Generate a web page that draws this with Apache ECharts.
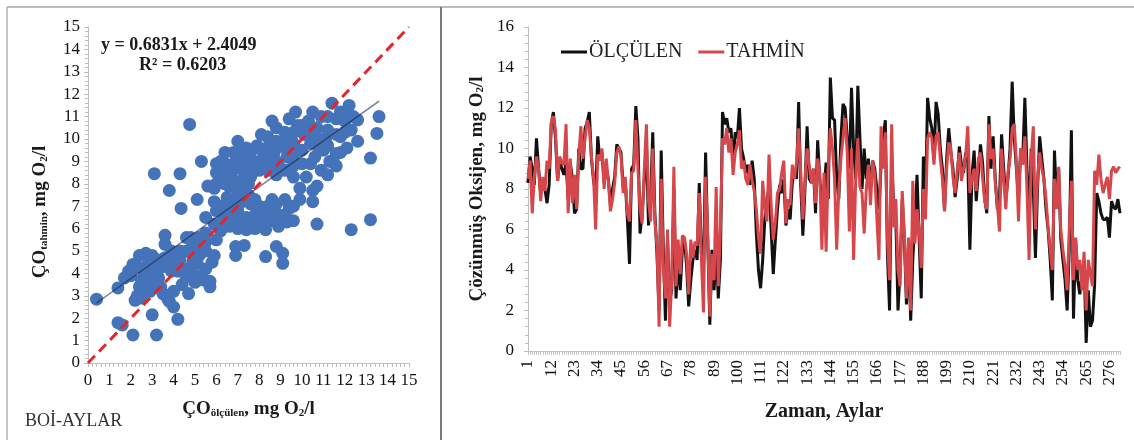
<!DOCTYPE html>
<html>
<head>
<meta charset="utf-8">
<script src="https://cdn.jsdelivr.net/npm/echarts@6/dist/echarts.min.js"></script>
<style>
  html, body { margin: 0; padding: 0; background: #fff; }
  #chart { width: 1134px; height: 440px; }
</style>
</head>
<body>
<div id="chart"></div>
<script>
// scatter: measured (x) vs predicted (y), BOİ-AYLAR
const scatterX = [0.4,1.4,1.4,1.6,2.1,3.2,3.0,4.2,3.1,4.3,3.8,4.35,4.75,5.1,5.3,
  1.7,1.9,2.1,2.4,2.7,3.0,3.3,2.3,2.4,2.5,2.6,2.8,3.1,3.3,2.2,2.5,2.9,3.5,3.6,3.6,3.9,3.8,4.1,4.2,3.5,3.8,4.0,3.7,4.4,4.5,4.3,
  4.6,4.8,5.2,5.5,4.6,5.0,5.5,4.9,5.1,5.8,4.6,5.4,5.7,5.7,4.7,5.2,5.9,
  6.9,7.3,6.9,8.3,8.8,9.1,9.1,10.7,12.3,13.2,
  13.2,13.5,13.6,12.6,12.6,11.8,11.6,11.1,10.5,10.5,9.9,9.6,11.8,11.45,
  5.5,5.9,6.0,6.3,6.6,6.6,7.0,7.4,7.8,8.3,8.9,9.3,7.0,7.4,7.8,8.2,8.6,9.0,9.4,7.2,7.6,8.0,8.4,8.8,9.2,6.8,7.0,7.5,6.2,6.5,5.9,5.6,5.9,
  6.0,6.3,6.2,6.5,6.8,6.7,6.9,7.2,7.3,7.5,7.6,7.9,7.8,7.6,8.2,8.4,8.5,8.8,8.7,8.9,9.0,9.2,9.3,9.4,9.5,9.7,9.8,9.9,10.0,10.1,
  10.3,10.5,10.4,10.6,10.7,10.9,11.0,11.2,11.4,11.6,11.3,11.8,12.0,12.2,12.4,12.0,10.9,10.2,9.6,10.7,6.4,7.0,7.4,8.1,8.6,9.4,
  6.6,7.1,9.9,11.2,11.6,12.1,12.3,
  6.0,6.0,6.4,6.4,6.8,6.8,7.2,7.2,7.2,7.6,7.6,8.0,8.0,8.0,8.4,8.4,8.4,8.8,8.8,8.8,9.2,9.2,9.6,9.6,9.6,9.6,
  10.0,10.0,10.4,10.4,10.8,10.8,11.2,11.2,11.6,12.0,
  6.3,6.8,7.2,7.6,8.0,8.4,8.8,9.2,6.4,6.9,7.8,8.6,9.6,8.1,
  2.0,2.3,2.7,3.0,3.3,3.6,3.9,2.9,4.0,3.4,4.3,4.9,5.3,5.2,4.8,5.5,5.0,5.5,6.0,6.2];
const scatterY = [2.85,3.35,1.8,1.7,1.25,1.25,2.15,1.95,8.45,8.45,7.7,6.9,10.65,7.3,9.0,
  3.8,4.1,4.4,4.8,4.9,4.8,4.6,3.0,3.4,3.7,4.1,4.4,4.1,3.8,2.8,2.9,3.2,4.3,5.7,5.3,5.0,4.5,4.6,4.1,3.1,2.75,2.5,2.9,3.5,4.2,5.0,
  5.6,5.6,5.6,5.8,5.0,5.0,5.0,4.5,4.45,4.5,3.85,3.7,3.4,3.65,3.1,3.9,4.8,
  5.2,5.25,4.8,4.75,5.2,4.9,4.45,6.2,5.95,6.4,
  9.15,10.25,11.0,9.9,10.85,10.1,9.35,10.0,7.7,7.2,7.3,6.35,9.4,9.05,
  6.5,6.2,6.8,6.1,6.1,6.6,6.0,5.95,6.0,5.95,6.1,6.3,6.8,6.5,6.6,6.5,6.5,6.6,6.9,7.2,7.1,7.0,7.0,7.1,7.3,7.3,7.6,7.5,7.0,7.4,7.2,7.9,7.8,
  8.5,8.4,9.0,8.8,9.4,8.3,8.7,9.2,8.5,8.0,9.0,9.7,8.6,8.3,9.2,8.6,9.9,10.5,9.4,8.8,9.8,10.3,9.2,8.6,10.0,11.2,10.6,9.5,8.9,10.2,
  10.8,11.2,9.8,9.2,10.5,11.0,9.5,10.4,11.6,10.9,9.0,11.2,10.8,11.5,11.0,10.3,8.6,8.3,8.3,7.9,9.4,9.9,9.6,10.2,10.8,10.9,
  7.9,8.1,7.8,8.4,8.8,9.6,10.4,
  8.0,8.9,8.0,8.9,8.1,8.9,7.9,8.7,9.6,8.7,9.4,8.6,9.0,9.6,9.1,9.6,10.1,8.4,9.0,9.9,8.6,9.6,8.8,9.3,9.8,10.3,
  9.5,10.6,8.9,10.3,9.5,10.0,9.7,11.0,10.2,11.2,
  6.6,6.3,6.3,6.3,6.3,6.3,6.6,6.6,7.0,7.0,7.3,7.3,7.0,6.7,
  3.9,4.3,3.7,3.6,4.2,4.7,4.1,4.6,3.2,3.4,4.6,5.3,5.2,4.8,4.1,4.2,3.6,5.4,5.5,5.9];
const diagLine = [0, 15];          // 1:1 line
const trendSlope = 0.6831;
const trendIntercept = 2.4049;
const trendRange = [0.4, 13.6];

// time series, 281 months
const olculen = [
  8.3,9.6,9.0,8.2,10.5,9.0,7.8,8.4,8.0,7.3,
  8.2,11.2,11.8,10.5,8.4,9.5,9.0,8.7,9.3,7.5,
  9.3,8.5,6.8,7.0,10.0,9.0,9.0,11.0,11.3,11.8,
  9.5,8.4,7.8,10.6,9.4,9.8,8.3,9.0,8.5,7.2,
  8.0,8.6,10.2,10.0,9.8,8.1,8.4,6.5,4.3,9.0,
  9.2,12.1,10.5,5.8,6.8,8.5,10.3,6.2,7.5,10.8,
  6.8,4.8,2.0,9.9,5.0,1.5,5.5,2.5,3.0,8.0,
  2.6,4.5,3.0,5.0,5.5,4.2,2.2,3.5,4.5,5.0,
  4.5,8.3,4.8,4.0,9.8,5.5,1.3,5.0,3.0,5.0,
  2.6,4.5,11.8,11.2,11.5,10.8,11.0,9.2,10.8,10.5,
  12.0,10.0,9.5,8.8,9.2,8.2,9.4,8.5,5.8,4.0,
  3.1,4.5,6.5,7.5,8.0,6.0,3.8,5.5,7.0,8.2,
  7.8,8.5,6.2,7.0,6.5,8.3,9.0,8.5,12.3,8.2,
  5.7,8.0,11.1,8.5,8.3,9.0,6.8,10.4,8.5,7.2,
  8.0,9.3,7.5,13.5,11.5,11.4,8.5,7.5,10.5,12.2,
  12.0,10.5,9.0,13.0,10.0,8.5,13.1,10.5,8.0,10.0,
  8.5,9.5,8.0,9.4,9.0,8.0,7.0,9.2,10.5,11.4,
  4.8,2.0,9.5,7.0,6.5,2.0,4.0,7.5,5.5,2.3,
  5.0,1.5,4.5,6.5,8.7,5.5,2.6,9.6,7.5,12.5,
  11.5,11.0,9.5,12.3,11.7,10.0,9.0,6.9,9.5,11.0,
  9.8,9.0,7.6,8.5,10.1,9.2,8.8,9.8,9.5,5.0,
  8.7,9.9,7.4,8.8,10.2,9.3,7.5,6.8,11.6,9.0,
  10.6,8.5,7.0,7.5,10.7,9.0,7.5,8.5,10.0,13.3,
  10.5,9.0,7.5,10.0,9.5,12.5,9.0,6.5,10.0,8.0,
  4.6,8.0,10.6,9.5,8.5,7.0,6.0,4.5,2.5,9.9,
  7.5,9.0,5.5,4.5,3.5,2.0,5.0,10.9,1.6,5.5,
  3.5,2.8,3.8,4.5,0.4,3.0,1.2,1.5,3.3,7.8,
  7.4,6.8,6.5,6.5,6.6,5.6,7.4,7.1,7.0,7.5,6.8];
const tahmin = [
  8.5,9.4,6.8,8.6,9.6,9.0,7.4,8.6,7.9,9.4,
  9.0,11.3,11.6,10.9,8.4,9.6,9.3,9.2,11.2,6.8,
  9.5,7.3,8.7,7.0,9.6,11.1,9.5,10.5,11.4,11.0,
  9.6,8.6,6.0,9.7,9.4,10.0,8.0,9.5,8.4,6.9,
  7.5,8.3,9.8,10.1,9.6,7.8,8.6,6.8,6.4,8.8,
  8.9,11.4,9.0,7.0,6.3,9.0,11.2,7.4,6.4,10.0,
  6.4,5.2,1.2,8.5,4.2,2.6,6.0,1.2,3.5,9.1,
  3.2,5.5,3.8,5.7,5.6,4.8,2.8,5.5,4.6,5.4,
  5.2,7.8,4.6,1.9,8.6,5.8,1.7,4.8,3.5,8.1,
  3.2,6.0,10.5,10.2,11.0,9.8,10.5,8.7,9.8,10.2,
  10.9,9.0,9.4,8.5,8.2,9.2,8.4,7.9,7.0,5.6,
  4.8,8.4,7.1,6.4,9.7,7.2,5.5,6.4,7.8,8.0,
  8.8,9.4,6.3,7.5,7.2,9.2,8.5,9.3,11.0,8.8,
  6.5,8.5,10.0,9.2,8.3,9.0,7.3,9.5,8.8,5.0,
  8.8,4.9,9.0,11.0,10.0,8.5,5.0,8.0,9.5,10.5,
  11.5,9.8,5.9,10.0,4.5,8.5,10.5,8.1,7.8,5.8,
  8.0,9.2,7.2,9.4,8.7,6.6,4.5,11.1,9.0,10.8,
  5.5,3.5,11.2,6.1,7.5,4.0,3.2,7.9,5.8,2.6,
  5.6,2.0,8.4,5.3,7.0,6.0,4.1,8.0,6.5,10.5,
  10.8,10.5,9.2,10.6,10.8,9.5,8.5,6.9,9.0,10.3,
  10.0,8.6,7.8,8.9,9.8,8.4,9.0,9.6,11.1,7.8,
  8.5,9.0,7.9,9.5,9.8,8.6,7.4,7.0,11.2,9.5,
  10.0,8.3,7.2,5.9,10.0,8.4,7.0,8.8,9.5,11.0,
  11.2,9.3,6.4,10.0,9.2,10.6,8.0,4.5,9.5,11.1,
  6.0,8.5,9.8,9.0,8.5,7.5,6.1,5.0,4.0,8.5,
  7.0,9.1,6.0,5.0,4.2,3.0,6.0,8.4,3.5,5.6,
  4.0,4.5,3.0,4.9,2.0,4.5,3.8,3.2,8.9,8.2,
  9.7,8.5,7.8,8.2,8.6,7.5,8.9,9.1,8.8,9.0,9.1];
const months = olculen.map((v, i) => String(i + 1));

const serif = 'Liberation Serif';
const axisGray = '#bfbfbf';

let scatterData = scatterX.map((x, i) => [x, scatterY[i]]);
let trendData = trendRange.map(x => [x, trendSlope * x + trendIntercept]);
let diagData = diagLine.map(v => [v, v]);

let richName = {
  b: { fontFamily: serif, fontSize: 19, fontWeight: 'bold', color: '#1a1a1a' },
  s: { fontFamily: serif, fontSize: 11, fontWeight: 'bold', color: '#1a1a1a', padding: [8, 0, 0, 0] }
};

let chart = echarts.init(document.getElementById('chart'));
let option = {
  animation: false,
  backgroundColor: '#fff',
  textStyle: { fontFamily: serif },
  grid: [
    { left: 88, top: 27, width: 321, height: 336 },
    { left: 528, top: 27, width: 592, height: 324 }
  ],
  legend: {
    data: ['ÖLÇÜLEN', 'TAHMİN'],
    left: 556, top: 37,
    icon: 'rect', itemWidth: 26, itemHeight: 3, itemGap: 16,
    textStyle: { fontFamily: serif, fontSize: 20, color: '#222', padding: [0, 0, 0, -3] }
  },
  xAxis: [
    {
      gridIndex: 0, type: 'value', min: 0, max: 15, interval: 1,
      axisLine: { lineStyle: { color: axisGray } },
      axisTick: { show: true, length: 4, lineStyle: { color: axisGray } },
      minorTick: { show: true, splitNumber: 5, length: 4, lineStyle: { color: axisGray } },
      splitLine: { show: false },
      axisLabel: { color: '#111', fontSize: 17, fontFamily: serif, margin: 9 },
      name: '{b|ÇO}{s|ölçülen}{b|, mg O}{s|2}{b|/l}',
      nameLocation: 'middle', nameGap: 37,
      nameTextStyle: { rich: richName }
    },
    {
      gridIndex: 1, type: 'category', data: months, boundaryGap: false,
      axisLine: { lineStyle: { color: axisGray } },
      axisTick: { show: true, interval: 0, length: 4, lineStyle: { color: '#c8c8c8' } },
      axisLabel: { interval: 10, rotate: 90, color: '#111', fontSize: 17, fontFamily: serif, margin: 9 },
      name: 'Zaman, Aylar',
      nameLocation: 'middle', nameGap: 51,
      nameTextStyle: { fontFamily: serif, fontSize: 20, fontWeight: 'bold', color: '#1a1a1a' }
    }
  ],
  yAxis: [
    {
      gridIndex: 0, type: 'value', min: 0, max: 15, interval: 1,
      axisLine: { show: true, lineStyle: { color: axisGray } },
      axisTick: { show: true, length: 4, lineStyle: { color: axisGray } },
      minorTick: { show: true, splitNumber: 5, length: 3, lineStyle: { color: axisGray } },
      splitLine: { show: false },
      axisLabel: { color: '#111', fontSize: 17, fontFamily: serif, margin: 8 },
      name: '{b|ÇO}{s|tahmin}{b|, mg O}{s|2}{b|/l}',
      nameLocation: 'middle', nameGap: 38,
      nameTextStyle: { rich: richName, padding: [0, 34, 0, 0] }
    },
    {
      gridIndex: 1, type: 'value', min: 0, max: 16, interval: 2,
      axisLine: { show: true, lineStyle: { color: axisGray } },
      axisTick: { show: true, length: 4, lineStyle: { color: axisGray } },
      minorTick: { show: true, splitNumber: 5, length: 3, lineStyle: { color: axisGray } },
      splitLine: { show: false },
      axisLabel: { color: '#111', fontSize: 17, fontFamily: serif, margin: 14 },
      name: '{b|Çözünmüş Oksijen, mg O}{s|2}{b|/l}',
      nameLocation: 'middle', nameGap: 41,
      nameTextStyle: { rich: richName }
    }
  ],
  series: [
    {
      type: 'scatter', xAxisIndex: 0, yAxisIndex: 0,
      data: scatterData, symbolSize: 13,
      itemStyle: { color: '#4573b9', opacity: 1 }, z: 2
    },
    {
      type: 'line', xAxisIndex: 0, yAxisIndex: 0, data: diagData,
      symbol: 'none', lineStyle: { color: '#e3262b', width: 3, type: [10, 6] }, z: 4
    },
    {
      type: 'line', xAxisIndex: 0, yAxisIndex: 0, data: trendData,
      symbol: 'none', lineStyle: { color: 'rgba(25,35,70,0.6)', width: 1.5 }, z: 3
    },
    {
      name: 'ÖLÇÜLEN', type: 'line', xAxisIndex: 1, yAxisIndex: 1,
      data: olculen, symbol: 'none',
      lineStyle: { color: '#111', width: 3 }, itemStyle: { color: '#111' }
    },
    {
      name: 'TAHMİN', type: 'line', xAxisIndex: 1, yAxisIndex: 1,
      data: tahmin, symbol: 'none',
      lineStyle: { color: '#d6474b', width: 3 }, itemStyle: { color: '#d6474b' }
    }
  ],
  graphic: [
    { type: 'line', shape: { x1: 7, y1: 7, x2: 1134, y2: 7 }, style: { stroke: '#a6a6a6', lineWidth: 1.5 } },
    { type: 'line', shape: { x1: 7, y1: 7, x2: 7, y2: 440 }, style: { stroke: '#b5b5b5', lineWidth: 1.5 } },
    { type: 'line', shape: { x1: 441, y1: 7, x2: 441, y2: 440 }, style: { stroke: '#7a7a7a', lineWidth: 2 } },
    { type: 'text', left: 101, top: 36, style: { text: 'y = 0.6831x + 2.4049', font: 'bold 18px "Liberation Serif"', fill: '#1a1a1a' } },
    { type: 'text', left: 139, top: 56, style: { text: 'R² = 0.6203', font: 'bold 18px "Liberation Serif"', fill: '#1a1a1a' } },
    { type: 'text', left: 25, top: 412, style: { text: 'BOİ-AYLAR', font: '18px "Liberation Serif"', fill: '#333' } }
  ]
};
chart.setOption(option);
</script>
</body>
</html>
